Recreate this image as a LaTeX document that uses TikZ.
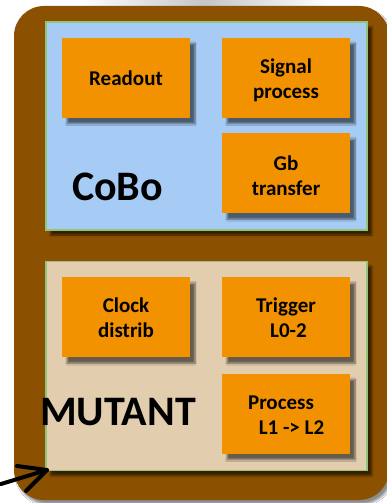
\documentclass[tikz,border=0pt]{standalone}
\usepackage{fontspec}
\setmainfont{Carlito}
\usetikzlibrary{shadows.blur}
\definecolor{brownbg}{RGB}{139,81,0}
\definecolor{cobobg}{RGB}{166,203,244}
\definecolor{mutbg}{RGB}{226,206,175}
\definecolor{orangebox}{RGB}{243,146,0}
\definecolor{greenline}{RGB}{147,196,125}
\tikzset{
  panel/.style={draw=greenline, line width=1.5pt, blur shadow={shadow xshift=5pt, shadow yshift=-5pt, shadow opacity=60, shadow blur steps=6}},
  unitbox/.style={fill=orangebox, draw=none, minimum width=128pt, minimum height=80pt, inner sep=0pt,
    blur shadow={shadow xshift=5pt, shadow yshift=-6pt, shadow opacity=55, shadow blur steps=6}},
  unittext/.style={align=center, inner sep=0pt, font=\bfseries\fontsize{21}{25}\selectfont},
  bigtitle/.style={font=\bfseries\fontsize{42}{46}\selectfont, anchor=base, inner sep=0pt},
  arrowline/.style={line width=4pt, line cap=round, line join=round, black}
}
\begin{document}
\begin{tikzpicture}[x=1pt,y=-1pt]
\useasboundingbox (0,0) rectangle (387,503);
\fill[white] (0,0) rectangle (387,503);
% soft grey shadow above the frame
\shade[left color=white, right color=white, middle color=gray!45] (80,0) rectangle (330,8);
% brown frame
\fill[brownbg, rounded corners=30pt, blur shadow={shadow xshift=3pt, shadow yshift=-4pt, shadow opacity=45, shadow blur steps=6}] (14,6) rectangle (389,500);
% panels
\node[panel, fill=cobobg, minimum width=321pt, minimum height=208pt, inner sep=0pt] (cobo) at (206.3,126) {};
\node[panel, fill=mutbg, minimum width=321pt, minimum height=209pt, inner sep=0pt] (mutant) at (206.3,366) {};
% units
\node[unitbox] (readout) at (126,77.7) {};
\node[unitbox] (signal) at (286,77.7) {};
\node[unitbox] (gb) at (286,173.3) {};
\node[unitbox] (clock) at (126,317.2) {};
\node[unitbox] (trigger) at (286,317.2) {};
\node[unitbox] (process) at (286,413.7) {};
\node[unittext] (readouttxt) at ([yshift=-0.5pt]readout.center) {Readout};
\node[unittext] (signaltxt) at ([yshift=-2.5pt]signal.center) {Signal\\process};
\node[unittext] (gbtxt) at ([yshift=-2.5pt]gb.center) {Gb\\transfer};
\node[unittext] (clocktxt) at ([yshift=-1pt]clock.center) {Clock\\distrib};
\node[unittext] (triggertxt) at ([yshift=-1pt]trigger.center) {Trigger\\\hspace*{5pt}L0-2};
\node[unittext] (processtxt) at ([yshift=-1.5pt]process.center) {Process\hspace*{10pt}\\\hspace*{11pt}L1 -> L2};
% titles
\node[bigtitle] (cobotitle) at (117.5,200) {CoBo};
\node[bigtitle] (muttitle) at (118,425) {MUTANT};
% arrow
\coordinate (tail) at (1,484);
\coordinate (tip) at (47,470);
\coordinate (armA) at (17,466);
\coordinate (armB) at (26,491);
\draw[arrowline] (tail) -- (tip);
\draw[arrowline] (armA) -- (tip) -- (armB);
\end{tikzpicture}
\end{document}
